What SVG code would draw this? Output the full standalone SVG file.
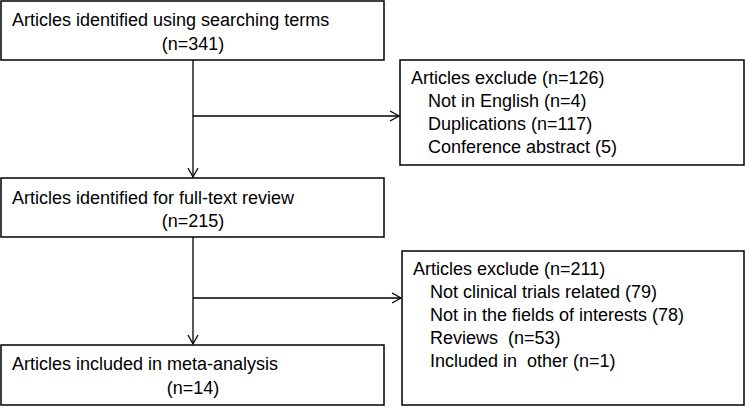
<svg xmlns="http://www.w3.org/2000/svg" width="745" height="408" viewBox="0 0 745 408">
<style>
rect{fill:#fff;stroke:#000;stroke-width:1.5}
text{font-family:"Liberation Sans",Arial,sans-serif;font-size:18px;fill:#000;white-space:pre}
.c{text-anchor:middle}
.ln{stroke:#000;stroke-width:1.3;fill:none}
</style>
<defs><marker id="a" markerWidth="12" markerHeight="12" refX="10" refY="6" orient="auto" markerUnits="userSpaceOnUse"><path d="M1,1 L10,6 L1,11" fill="none" stroke="#000" stroke-width="1.3"/></marker></defs>
<rect width="745" height="408" style="stroke:none"/>
<g id="connectors">
<line class="ln" x1="193" y1="60" x2="193" y2="177" marker-end="url(#a)"/>
<line class="ln" x1="193" y1="116" x2="399" y2="116" marker-end="url(#a)"/>
<line class="ln" x1="193" y1="237" x2="193" y2="344" marker-end="url(#a)"/>
<line class="ln" x1="193" y1="298" x2="401" y2="298" marker-end="url(#a)"/>
</g>
<g id="n1"><rect x="1" y="1" width="383" height="59"/><text x="12" y="26">Articles identified using searching terms</text><text class="c" x="193" y="50">(n=341)</text></g>
<g id="n2"><rect x="400" y="60" width="344" height="105"/><text x="411" y="84">Articles exclude (n=126)</text><text x="428" y="107">Not in English (n=4)</text><text x="428" y="130">Duplications (n=117)</text><text x="428" y="153">Conference abstract (5)</text></g>
<g id="n3"><rect x="1" y="178" width="383" height="59"/><text x="12" y="204">Articles identified for full-text review</text><text class="c" x="193" y="227">(n=215)</text></g>
<g id="n4"><rect x="402" y="251" width="342" height="154"/><text x="413" y="275">Articles exclude (n=211)</text><text x="430" y="298">Not clinical trials related (79)</text><text x="430" y="321">Not in the fields of interests (78)</text><text x="430" y="344" xml:space="preserve">Reviews  (n=53)</text><text x="430" y="367" xml:space="preserve">Included in  other (n=1)</text></g>
<g id="n5"><rect x="1" y="345" width="383" height="60"/><text x="12" y="370">Articles included in meta-analysis</text><text class="c" x="193" y="394">(n=14)</text></g>
</svg>
